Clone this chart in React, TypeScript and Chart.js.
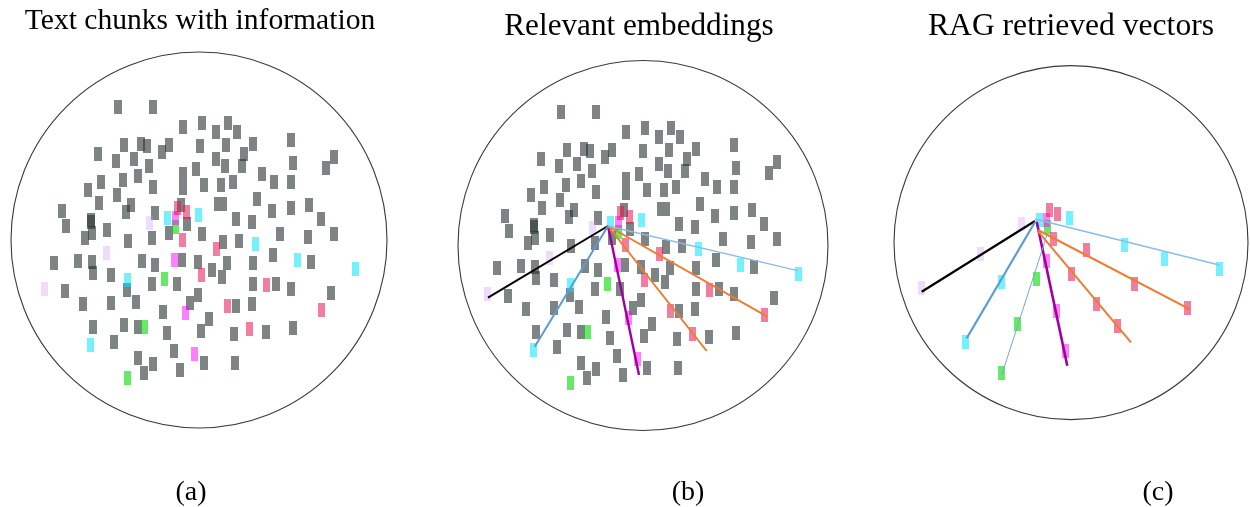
import React, { useEffect, useRef } from "react";
import { Chart, registerables } from "chart.js";

Chart.register(...registerables);

type P = [number, number];

// ---------- Panel (a) / (b): text chunk embeddings (same cloud in both panels) ----------
const grayChunks: P[] = [
  [117.7, 107.3], [153.3, 107.3], [182.7, 127.3], [201.7, 123.3], [124.3, 145], [141, 144], [147.3, 146],
  [168.7, 145], [162, 152.3], [97.7, 154.3], [115.7, 161], [133.7, 158.7], [149, 166], [195.7, 169],
  [182.7, 174.3], [182.7, 187.7], [138, 176], [123, 180.3], [101, 182], [152.7, 187.3], [87.7, 190],
  [117.3, 195.3], [98.7, 203.3], [130.7, 205], [126.3, 212.3], [62, 210.7], [155, 213.3], [180.7, 205],
  [186.7, 224.3], [91, 220], [91, 222], [92.3, 233.3], [66, 225.7], [107.3, 230], [85.3, 237.7],
  [128.3, 241], [152, 238.3], [169.3, 233.3],
  [54, 262.7], [77.7, 261], [92, 261.7], [92.7, 273.3], [142, 261], [155, 265], [182.3, 260], [197.7, 261.7],
  [111, 275], [127.3, 290], [151.7, 284.3], [176.7, 284.3], [65, 290.7], [83.3, 304], [111.3, 302.7],
  [136.3, 301.7], [162.7, 311.7], [190, 303.3], [197.7, 295], [92.7, 326.7], [124.3, 325], [138.3, 326.7],
  [166.7, 332.7], [114.3, 342.3], [174, 351], [137.7, 358.3], [153.3, 364], [144.3, 373.3], [180, 370],
  [223.3, 242], [239.3, 241], [280, 234.3], [307.7, 236.7], [334.3, 234.3], [212.3, 270], [227, 262.7],
  [221.7, 277.3], [252.7, 262.7], [273.3, 255], [311, 261.7], [252.7, 284], [275.7, 284.3], [291, 289.3],
  [330.7, 292.7], [235.7, 306], [252, 304], [209, 318.7], [201, 331], [234.3, 334], [265.7, 331.7],
  [293.3, 327.7], [204.3, 363.3], [235, 363.3],
  [228.3, 122.7], [215.7, 131.7], [237.3, 132.3], [199.7, 145.7], [225.7, 145], [253.3, 144], [291, 140],
  [244, 154], [242.3, 166], [216, 159], [225, 165.7], [292.7, 162.7], [334, 156.7], [325.7, 167.7],
  [261.7, 174.3], [274, 181.7], [291, 182.3], [204, 185], [221, 185], [233.3, 182.3], [256.7, 199.3],
  [271.7, 211], [291, 207.7], [309, 205], [321, 219], [236, 219], [252.3, 222.3], [201.7, 234.3],
];
const grayWideChunks: P[] = [[220.7, 204.3]];
const cyanChunks: P[] = [
  [167.3, 218.3], [198.3, 215], [127.3, 280], [90.3, 345], [255.7, 244], [297.7, 260], [355.3, 269.3],
];
const pinkChunks: P[] = [
  [177.3, 208.3], [186, 211.7], [182.7, 239.5], [201.7, 275], [216.7, 249.3], [266.7, 285], [227.3, 306],
  [321.7, 310], [249, 329],
];
const magentaChunks: P[] = [[175, 217.7], [174, 260], [185.3, 313.3], [194.3, 354.3]];
const lavenderChunks: P[] = [[149, 223.3], [106, 253.3], [44.3, 289.3]];
const greenChunks: P[] = [[175.7, 226.7], [164.3, 279.3], [144.3, 326.7], [127.7, 378.3]];

// Panel (b) query lines (same coordinates as the cloud)
const bBlack: P[] = [[165, 221], [45, 292.7]];
const bBlue: P[] = [[165, 221], [91.7, 341.7]];
const bPurple: P[] = [[165, 221], [196, 370]];
const bOrange1: P[] = [[165, 221], [263.7, 346]];
const bOrange2: P[] = [[165, 221], [324.3, 311.7]];
const bLightBlue: P[] = [[165, 221], [354.7, 265.7]];

// ---------- Panel (c): retrieved vectors ----------
const cLavender: P[] = [[1021, 224.3], [980.3, 254.3], [921, 288.3]];
const cCyan: P[] = [
  [1039, 220], [1001, 281.7], [965.3, 341.7], [1069, 217.7], [1124, 245], [1164, 259.3], [1219, 269],
];
const cGreen: P[] = [[1047.3, 227.3], [1036.3, 279], [1017.7, 324.3], [1001, 373.3]];
const cMagenta: P[] = [[1046.7, 220], [1046, 260.7], [1056.7, 311], [1065.7, 351]];
const cPink: P[] = [
  [1049, 210], [1057, 214], [1053.7, 239.3], [1071.7, 274.3], [1096.7, 304.3], [1117.7, 326],
  [1086.7, 250], [1134.3, 284.3], [1187, 308.3],
];
const cBlack: P[] = [[1035, 221], [921.7, 291.7]];
const cBlue: P[] = [[1035, 222], [966.7, 338.3]];
const cThinBlue: P[] = [[1047, 235], [1001.7, 375]];
const cPurple: P[] = [[1036.7, 221.7], [1067.3, 365.7]];
const cOrange1: P[] = [[1038.3, 231.7], [1131, 342.3]];
const cOrange2: P[] = [[1038, 230], [1190, 309.3]];
const cLightBlue: P[] = [[1035, 219], [1219.3, 265]];

// ---------- styles ----------
const COL = {
  gray: "rgba(40,50,50,0.6)",
  cyan: "rgba(0,230,255,0.55)",
  pink: "rgba(230,20,80,0.55)",
  magenta: "rgba(255,0,255,0.5)",
  lavender: "rgba(200,140,240,0.3)",
  green: "rgba(0,220,0,0.6)",
};

const toXY = (pts: P[]) => pts.map(([x, y]) => ({ x, y }));

function rectImg(w: number, h: number, color: string): HTMLCanvasElement {
  const c = document.createElement("canvas");
  c.width = w;
  c.height = h;
  const ctx = c.getContext("2d")!;
  ctx.fillStyle = color;
  ctx.fillRect(0, 0, w, h);
  return c;
}

const ringPlugin = {
  id: "ring",
  beforeDatasetsDraw(chart: any, _args: any, opts: any) {
    if (!opts || opts.r == null) return;
    const { ctx, scales } = chart;
    const cx = scales.x.getPixelForValue(opts.cx);
    const cy = scales.y.getPixelForValue(opts.cy);
    const r = scales.x.getPixelForValue(opts.cx + opts.r) - cx;
    ctx.save();
    ctx.beginPath();
    ctx.arc(cx, cy, r, 0, Math.PI * 2);
    ctx.strokeStyle = "#3a3a3a";
    ctx.lineWidth = 1.1;
    ctx.stroke();
    ctx.restore();
  },
};

function pointSet(pts: P[], img: HTMLCanvasElement, order: number) {
  return {
    type: "scatter" as const,
    data: toXY(pts),
    pointStyle: img,
    pointRadius: 5,
    pointHoverRadius: 5,
    showLine: false,
    order,
  };
}

function lineSet(pts: P[], color: string, width: number) {
  return {
    type: "line" as const,
    data: toXY(pts),
    borderColor: color,
    borderWidth: width,
    pointRadius: 0,
    fill: false,
    tension: 0,
    order: 0,
  };
}

type PanelProps = {
  left: number;
  top: number;
  width: number;
  height: number;
  xMin: number;
  kind: "a" | "b" | "c";
  ring: { cx: number; cy: number; r: number };
};

function Panel({ left, top, width, height, xMin, kind, ring }: PanelProps) {
  const ref = useRef<HTMLCanvasElement | null>(null);
  useEffect(() => {
    if (!ref.current) return;
    const img = {
      gray: rectImg(8, 14, COL.gray),
      wide: rectImg(13, 14, COL.gray),
      cyan: rectImg(7, 14, COL.cyan),
      pink: rectImg(7, 14, COL.pink),
      magenta: rectImg(7, 14, COL.magenta),
      lavender: rectImg(7, 14, COL.lavender),
      green: rectImg(7, 14, COL.green),
    };
    let datasets: any[] = [];
    if (kind === "a" || kind === "b") {
      datasets = [
        pointSet(grayChunks, img.gray, 3),
        pointSet(grayWideChunks, img.wide, 3),
        pointSet(cyanChunks, img.cyan, 2),
        pointSet(pinkChunks, img.pink, 2),
        pointSet(magentaChunks, img.magenta, 2),
        pointSet(lavenderChunks, img.lavender, 2),
        pointSet(greenChunks, img.green, 2),
      ];
      if (kind === "b") {
        datasets.push(
          lineSet(bLightBlue, "#8dbbe8", 1.3),
          lineSet(bOrange2, "#ee7b30", 2),
          lineSet(bOrange1, "#ee7b30", 2),
          lineSet(bBlue, "#5b9bd5", 2),
          lineSet(bBlack, "#000000", 2),
          lineSet(bPurple, "#a000a0", 2.4)
        );
      }
    } else {
      datasets = [
        pointSet(cCyan, img.cyan, 2),
        pointSet(cPink, img.pink, 2),
        pointSet(cMagenta, img.magenta, 2),
        pointSet(cLavender, img.lavender, 2),
        pointSet(cGreen, img.green, 2),
        lineSet(cLightBlue, "#8dbbe8", 1.3),
        lineSet(cOrange2, "#ee7b30", 2),
        lineSet(cOrange1, "#ee7b30", 2),
        lineSet(cThinBlue, "#7aa3d8", 1),
        lineSet(cBlue, "#5b9bd5", 2.2),
        lineSet(cBlack, "#000000", 2.2),
        lineSet(cPurple, "#a000a0", 2.6),
      ];
    }
    const chart = new Chart(ref.current, {
      type: "scatter",
      data: { datasets },
      options: {
        animation: false,
        responsive: false,
        maintainAspectRatio: false,
        events: [],
        layout: { padding: 0, autoPadding: false },
        scales: {
          x: { type: "linear", min: xMin, max: xMin + width, display: false },
          y: { type: "linear", min: 0, max: height, reverse: true, display: false },
        },
        plugins: {
          legend: { display: false },
          tooltip: { enabled: false },
          ring,
        } as any,
      },
      plugins: [ringPlugin],
    } as any);
    return () => chart.destroy();
  }, []);
  return (
    <canvas
      ref={ref}
      width={width}
      height={height}
      style={{ position: "absolute", left, top, width, height }}
    />
  );
}

const textBase: React.CSSProperties = {
  position: "absolute",
  fontFamily: '"Liberation Serif", "Times New Roman", serif',
  whiteSpace: "nowrap",
  lineHeight: 1,
  transform: "translate(-50%, -50%)",
  color: "#000",
};

export default function App() {
  return (
    <div
      style={{
        position: "fixed",
        left: 0,
        top: 0,
        width: 1250,
        height: 507,
        overflow: "hidden",
        background: "#fff",
      }}
    >
      <Panel left={0} top={0} width={420} height={507} xMin={0} kind="a" ring={{ cx: 199, cy: 240, r: 188 }} />
      <Panel left={443} top={5} width={420} height={507} xMin={0} kind="b" ring={{ cx: 200, cy: 240.5, r: 185 }} />
      <Panel left={860} top={0} width={390} height={507} xMin={860} kind="c" ring={{ cx: 1071, cy: 242.6, r: 177 }} />

      <div style={{ ...textBase, left: 200, top: 20, fontSize: 29.6 }}>Text chunks with information</div>
      <div style={{ ...textBase, left: 639, top: 25, fontSize: 31.2 }}>Relevant embeddings</div>
      <div style={{ ...textBase, left: 1071, top: 25, fontSize: 31.6 }}>RAG retrieved vectors</div>

      <div style={{ ...textBase, left: 191, top: 491, fontSize: 28 }}>(a)</div>
      <div style={{ ...textBase, left: 688, top: 491, fontSize: 28 }}>(b)</div>
      <div style={{ ...textBase, left: 1158, top: 491, fontSize: 28 }}>(c)</div>
    </div>
  );
}
